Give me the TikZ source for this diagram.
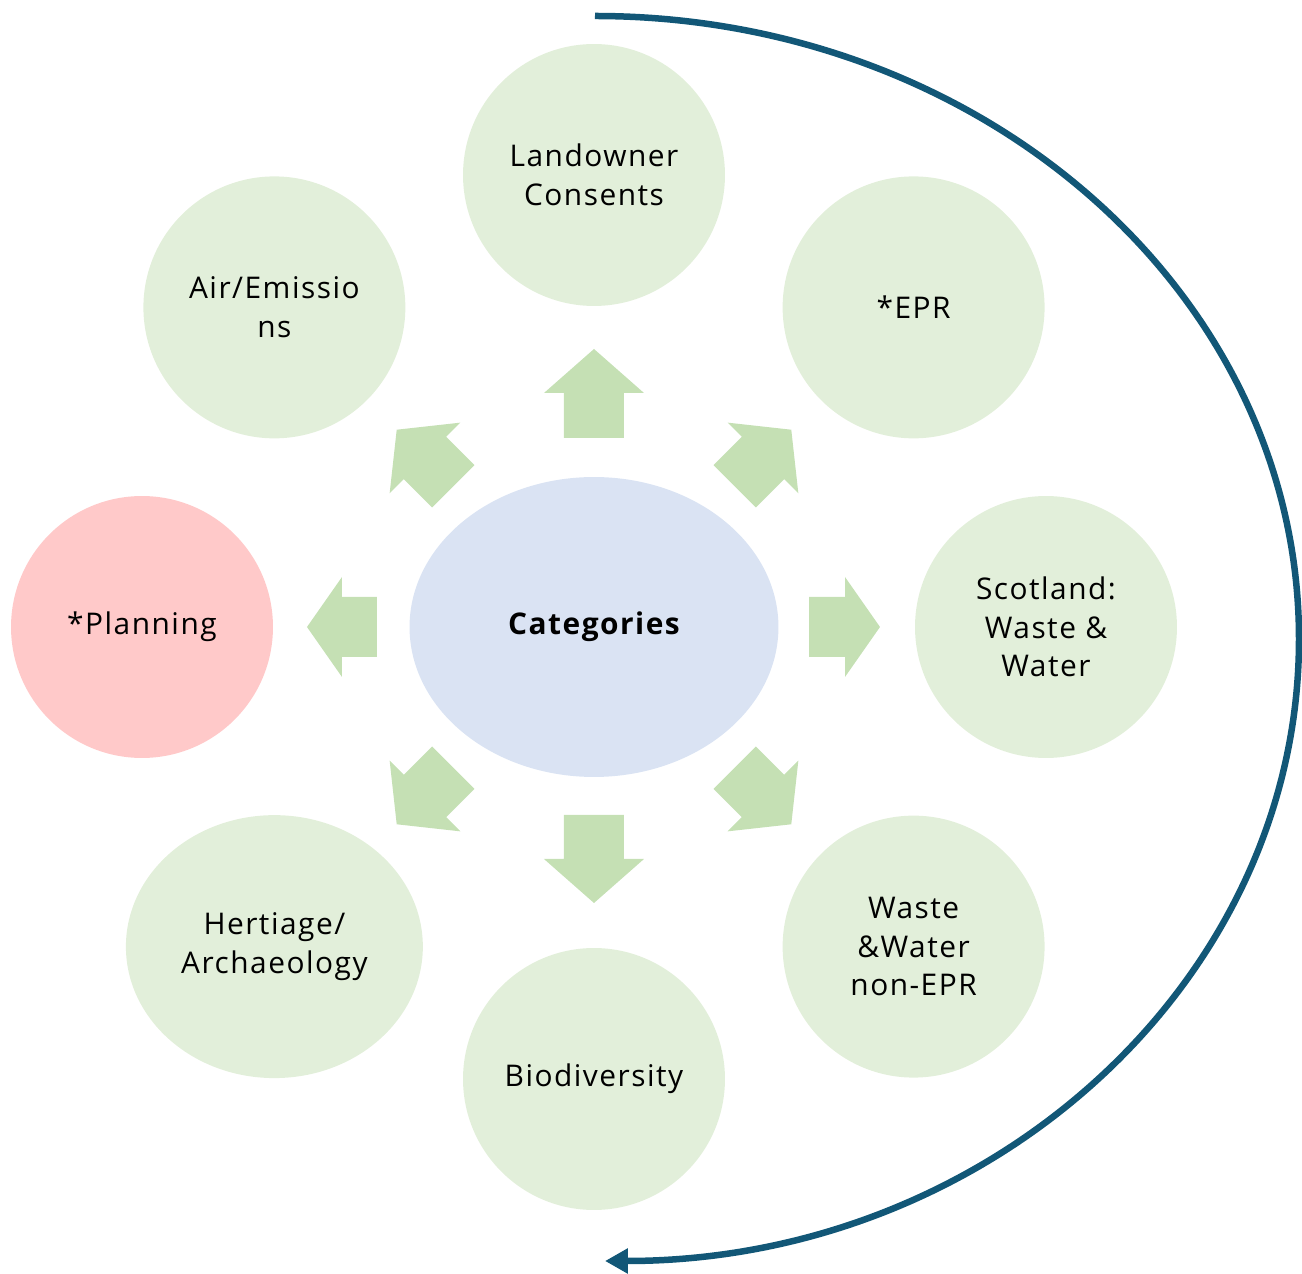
\documentclass[tikz,border=0pt]{standalone}
\usepackage{fontspec}
\setmainfont{Open Sans}[LetterSpace=5]
\usetikzlibrary{arrows.meta,shapes.geometric}

\definecolor{catblue}{HTML}{DAE3F3}
\definecolor{leafgreen}{HTML}{E2EFDA}
\definecolor{arrowgreen}{HTML}{C5E0B4}
\definecolor{planpink}{HTML}{FFC9C9}
\definecolor{loopblue}{HTML}{125777}

\begin{document}
\begin{tikzpicture}[x=0.02cm,y=0.02cm,
    every node/.style={font=\fontsize{17}{22}\selectfont,align=center,text=black},
    topic/.style={circle,fill=leafgreen,minimum size=5.24cm,inner sep=0pt}]
\useasboundingbox (-594,-647) rectangle (708,627);

% centre
\node[ellipse,fill=catblue,minimum width=7.38cm,minimum height=6cm,
      font=\fontsize{17}{22}\selectfont\bfseries] (cat) at (0,0) {Categories};

% ring of topics
\node[topic] (land) at (90:452) {Landowner\\Consents};
\node[topic] (epr) at (45:452) {*EPR};
\node[topic] (scot) at (0:452) {Scotland:\\Waste \&\\Water};
\node[topic] (nonepr) at (-45:452) {Waste\\\&Water\\non-EPR};
\node[topic] (bio) at (-90:452) {Biodiversity};
\node[topic,ellipse,minimum width=5.94cm,minimum height=5.26cm] (heri) at (225:452) {Hertiage/\\Archaeology};
\node[topic,fill=planpink] (plan) at (180:452) {*Planning};
\node[topic] (air) at (135:452) {Air/Emissio\\ns};

% block arrows
\foreach \ang/\rin/\rout/\hl in {0/215/286/35, 45/199/279/40, 90/189/278/44, 135/199/279/40,
                                 180/217/287/35, 225/199/279/40, 270/188/276/44, 315/199/279/40}
  \fill[arrowgreen,rotate=\ang] (\rin,-30) -- ({\rout-\hl},-30) -- ({\rout-\hl},-50) -- (\rout,0)
      -- ({\rout-\hl},50) -- ({\rout-\hl},30) -- (\rin,30) -- cycle;

% loop
\coordinate (loopstart) at (1,611);
\draw[loopblue,line width=0.13cm,-{Triangle[length=0.46cm,width=0.48cm]}] (loopstart)
    arc[start angle=90,end angle=0,x radius=704,y radius=623]
    arc[start angle=0,end angle=-90,x radius=694,y radius=622];
\end{tikzpicture}
\end{document}
